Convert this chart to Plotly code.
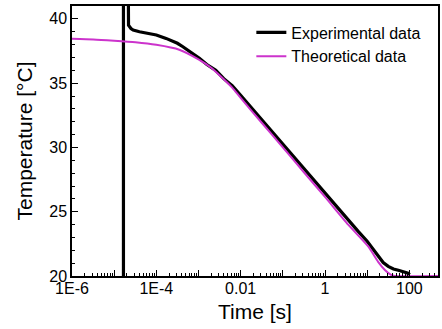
import plotly.graph_objects as go

# ---- data ----
exp_time = [1.66e-5, 1.66e-5, 2.14e-5, 2.19e-5, 2.5e-5, 2.82e-5, 3.98e-5, 6.9e-5, 1e-4, 1.7e-4,
            3.16e-4, 4.27e-4, 6.3e-4, 1.05e-3, 1.58e-3, 2.57e-3, 3.98e-3, 6.3e-3, 1e-2,
            1.78e-2, 3.16e-2, 5.6e-2, 0.1, 0.178, 0.316, 0.56, 1.0, 1.78, 3.16, 6.2, 10,
            14.1, 18.2, 24, 31.6, 42, 55, 71, 93, 102]
exp_temp = [19.0, 60.0, 45.0, 39.5, 39.25, 39.13, 39.0, 38.87, 38.75, 38.48,
            38.1, 37.83, 37.45, 36.93, 36.45, 36.0, 35.35, 34.8, 34.05,
            33.1, 32.1, 31.15, 30.2, 29.25, 28.3, 27.35, 26.4, 25.45, 24.5, 23.45, 22.7,
            22.05, 21.5, 21.05, 20.75, 20.55, 20.45, 20.35, 20.22, 20.1]

theo_time = [1e-6, 3.2e-6, 1e-5, 3.2e-5, 1e-4, 3.5e-4, 1e-3, 2e-3, 3.2e-3, 6.3e-3,
             1e-2, 3.2e-2, 0.1, 0.32, 1.0, 3.6, 10.7, 18.2, 26.3, 37, 45, 500]
theo_temp = [38.45, 38.4, 38.3, 38.18, 37.98, 37.6, 36.85, 36.2, 35.6, 34.65,
             33.85, 31.9, 30.0, 28.05, 26.15, 23.97, 22.28, 21.1, 20.47, 20.08, 20.0, 20.0]

x_tick_vals = [1e-6, 1e-4, 1e-2, 1, 100]
x_tick_text = ["1E-6", "1E-4", "0.01", "1", "100"]
y_tick_vals = [20, 25, 30, 35, 40]

FONT = "Arial, 'Liberation Sans', sans-serif"
MAGENTA = "#CC33CC"

fig = go.Figure()
fig.add_trace(go.Scatter(x=exp_time, y=exp_temp, mode="lines", name="Experimental data",
                         line=dict(color="black", width=3.2)))
fig.add_trace(go.Scatter(x=theo_time, y=theo_temp, mode="lines", name="Theoretical data",
                         line=dict(color=MAGENTA, width=2, shape="spline", smoothing=0.6)))

# all decades get a major tick, only some are labelled
decades = [10.0 ** e for e in range(-6, 3)]
labels = {v: t for v, t in zip(x_tick_vals, x_tick_text)}
major_text = []
for d in decades:
    lab = ""
    for v, t in labels.items():
        if abs(d / v - 1) < 1e-6:
            lab = t
    major_text.append(lab)
minor_vals = [m * d for d in decades for m in range(2, 10) if m * d < 500]

fig.update_layout(
    width=442, height=329,
    margin=dict(l=72, r=2, t=6, b=53),
    paper_bgcolor="white", plot_bgcolor="white",
    font=dict(family=FONT, size=16, color="black"),
    showlegend=True,
    legend=dict(x=0.49, y=0.965, xanchor="left", yanchor="top",
                bgcolor="rgba(0,0,0,0)", font=dict(size=16, family=FONT),
                tracegroupgap=0),
    xaxis=dict(
        type="log", range=[-6, 2.68],
        tickmode="array", tickvals=decades, ticktext=major_text,
        ticks="inside", ticklen=6, tickwidth=1.2, tickcolor="black",
        minor=dict(ticks="inside", ticklen=3, tickwidth=1, tickcolor="black",
                   tickvals=minor_vals),
        showline=True, linecolor="black", linewidth=1.5, mirror=True,
        showgrid=False, zeroline=False,
        tickfont=dict(size=16, family=FONT),
        ticklabelstandoff=-3,
        title=dict(text="Time [s]", font=dict(size=21, family=FONT), standoff=8),
    ),
    yaxis=dict(
        range=[20, 41],
        tickmode="array", tickvals=y_tick_vals,
        ticks="inside", ticklen=6, tickwidth=1.2, tickcolor="black",
        minor=dict(ticks="inside", ticklen=3, tickwidth=1, tickcolor="black", dtick=1),
        showline=True, linecolor="black", linewidth=1.5, mirror=True,
        showgrid=False, zeroline=False,
        tickfont=dict(size=16, family=FONT),
        title=dict(text="Temperature [\u00b0C]", font=dict(size=21, family=FONT), standoff=11),
    ),
)

fig.write_html("out.html")
